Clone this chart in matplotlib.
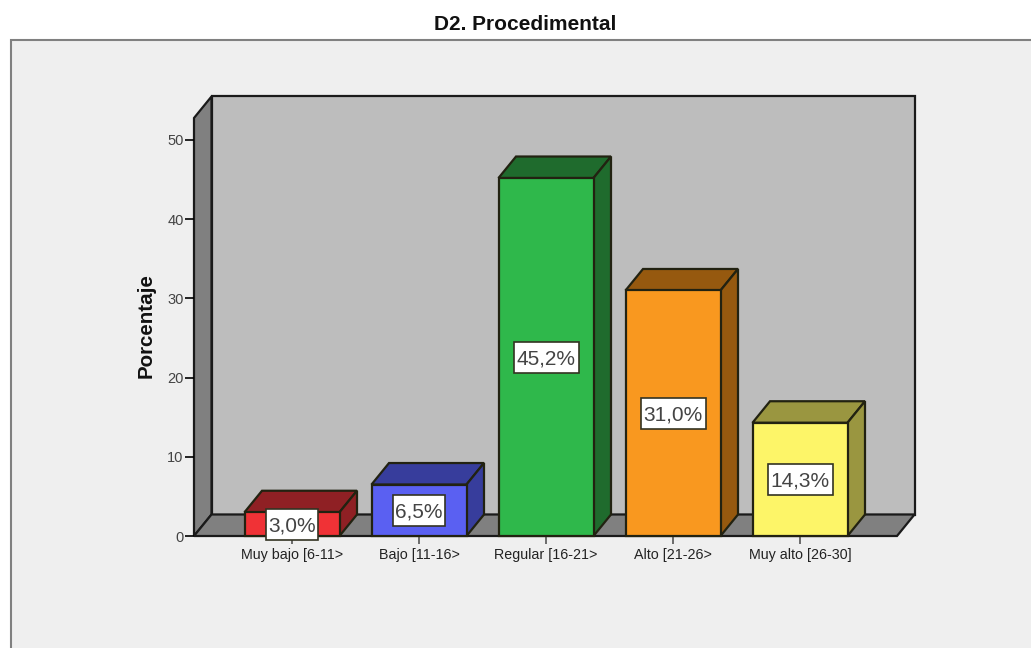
import matplotlib
matplotlib.use('Agg')
import matplotlib.pyplot as plt
from matplotlib.patches import Polygon, Rectangle

# Data
categories = ['Muy bajo [6-11>', 'Bajo [11-16>', 'Regular [16-21>', 'Alto [21-26>', 'Muy alto [26-30]']
values = [3.0, 6.5, 45.2, 31.0, 14.3]
labels = ['3,0%', '6,5%', '45,2%', '31,0%', '14,3%']
yticks = [0, 10, 20, 30, 40, 50]

# Style config
W, H = 1031, 648
FRONT = ['#f03236', '#5a60f2', '#2fb84b', '#f9981f', '#fdf568']
DARK = ['#8f2024', '#373d9c', '#1f6b2d', '#96590f', '#9a9640']
LINE = '#1a1a1a'
WALL = '#bdbdbd'
SIDE = '#808080'
PANEL = '#efefef'

plt.rcParams['font.family'] = ['Liberation Sans', 'DejaVu Sans']

fig = plt.figure(figsize=(W / 100, H / 100), dpi=100)
fig.patch.set_facecolor('white')

# Grey panel behind the chart, runs off right and bottom edges
fig.add_artist(Rectangle((11 / W, -0.05), 1.05, 1.05 - 40 / H, transform=fig.transFigure,
                         facecolor=PANEL, edgecolor='#808080', linewidth=1.5, zorder=-1))
fig.text(525 / W, 1 - 25 / H, 'D2. Procedimental', fontsize=15, weight='bold',
         ha='center', va='center', color='#111111')

# Axes is the front plane of the 3D box
left, right, top, bottom = 194, 897, 118, 536
ax = fig.add_axes([left / W, 1 - bottom / H, (right - left) / W, (bottom - top) / H])
ax.patch.set_visible(False)
for s in ax.spines.values():
    s.set_visible(False)

ax.set_xlim((left - 292) / 127, (right - 292) / 127)
ax.set_ylim(0, (bottom - top) / 7.92)
xmin, xmax = ax.get_xlim()
ymax = ax.get_ylim()[1]

dx = 17.5 / 127  # depth offset in data units
dy = 21.5 / 7.92
bw = 95 / 127


def poly(pts, color, z, lw=1.6, edge=LINE):
    ax.add_patch(Polygon(pts, closed=True, facecolor=color, edgecolor=edge, linewidth=lw,
                         joinstyle='miter', clip_on=False, zorder=z))


# back wall, left wall, floor
poly([(xmin + dx, dy), (xmax + dx, dy), (xmax + dx, ymax + dy), (xmin + dx, ymax + dy)], WALL, 1)
poly([(xmin, 0), (xmin + dx, dy), (xmin + dx, ymax + dy), (xmin, ymax)], SIDE, 1)
poly([(xmin, 0), (xmax, 0), (xmax + dx, dy), (xmin + dx, dy)], SIDE, 1)

for i, v in enumerate(values):
    x0, x1 = i - bw / 2, i + bw / 2
    poly([(x0, v), (x1, v), (x1 + dx, v + dy), (x0 + dx, v + dy)], DARK[i], 3, edge='#222211')
    poly([(x1, 0), (x1 + dx, dy), (x1 + dx, v + dy), (x1, v)], DARK[i], 3, edge='#222211')
    poly([(x0, 0), (x1, 0), (x1, v), (x0, v)], FRONT[i], 3, edge='#222211')
    # label box, sizes in pixels converted to data units
    hw = (26 if len(labels[i]) == 4 else 32.5) / 127
    hh = 15.5 / 7.92
    ax.add_patch(Rectangle((i - hw, v / 2 - hh), 2 * hw, 2 * hh, facecolor='white',
                           edgecolor='#333322', linewidth=1.2, clip_on=False, zorder=5))
    ax.text(i, v / 2, labels[i], fontsize=15, ha='center', va='center_baseline', color='#444444', zorder=6)

ax.set_xticks(range(len(categories)))
ax.set_xticklabels(categories, fontsize=10.3, color='#222222')
ax.set_yticks(yticks)
ax.tick_params(axis='y', labelsize=10.5, length=6.5, width=1.2, pad=1, labelcolor='#444444')
ax.tick_params(axis='x', length=6, width=1.2, pad=3, color='#555555')
fig.text(146 / W, 1 - 326 / H, 'Porcentaje', rotation=90, fontsize=14.8, weight='bold',
         ha='center', va='center', color='#111111')

fig.savefig('out.png', dpi=100)
